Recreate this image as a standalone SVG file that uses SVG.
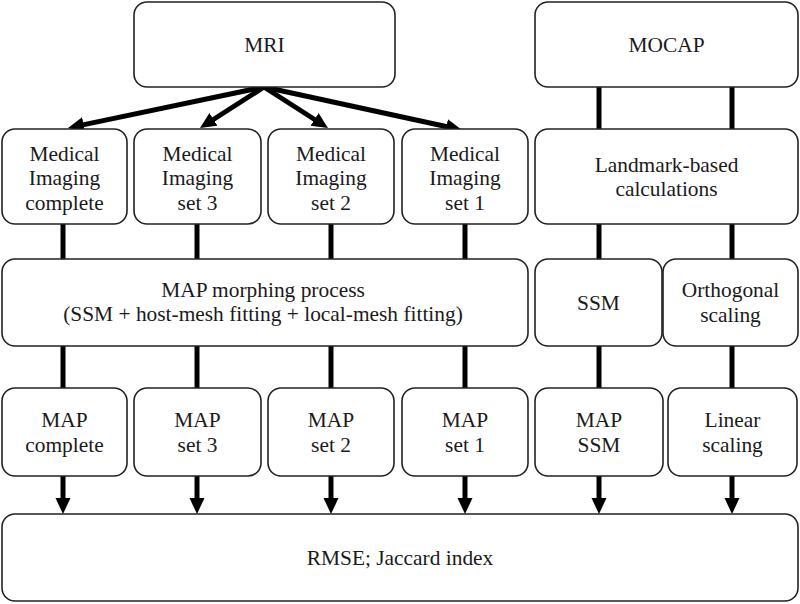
<svg xmlns="http://www.w3.org/2000/svg" width="800" height="604" viewBox="0 0 800 604">
<defs>
<style>
.box{fill:#fff;stroke:#222;stroke-width:1.6}
.t{font-family:"Liberation Serif","Times New Roman",serif;font-size:21.4px;fill:#1a1a1a;text-anchor:middle}
.c{stroke:#000;stroke-width:5;fill:none}
</style>
<marker id="ah" markerUnits="userSpaceOnUse" markerWidth="18" markerHeight="16" refX="2" refY="7.5" orient="auto">
<path d="M0,0 L16,7.5 L0,15 z" fill="#000"/>
</marker>
</defs>
<rect width="800" height="604" fill="#fff"/>
<g id="connectors">
<line class="c" x1="264" y1="87" x2="81.7" y2="125.1" marker-end="url(#ah)"/>
<line class="c" x1="264" y1="87" x2="211.8" y2="120.5" marker-end="url(#ah)"/>
<line class="c" x1="264" y1="87" x2="316.2" y2="120.5" marker-end="url(#ah)"/>
<line class="c" x1="264" y1="87" x2="448.3" y2="127" marker-end="url(#ah)"/>
<line class="c" x1="599" y1="87" x2="599" y2="129"/>
<line class="c" x1="732" y1="87" x2="732" y2="129"/>
<line class="c" x1="63" y1="224" x2="63" y2="259"/>
<line class="c" x1="197" y1="224" x2="197" y2="259"/>
<line class="c" x1="331" y1="224" x2="331" y2="259"/>
<line class="c" x1="465" y1="224" x2="465" y2="259"/>
<line class="c" x1="599" y1="224" x2="599" y2="259"/>
<line class="c" x1="732" y1="224" x2="732" y2="259"/>
<line class="c" x1="63" y1="346" x2="63" y2="388"/>
<line class="c" x1="197" y1="346" x2="197" y2="388"/>
<line class="c" x1="331" y1="346" x2="331" y2="388"/>
<line class="c" x1="465" y1="346" x2="465" y2="388"/>
<line class="c" x1="599" y1="346" x2="599" y2="388"/>
<line class="c" x1="732" y1="346" x2="732" y2="388"/>
<line class="c" x1="63" y1="476" x2="63" y2="500" marker-end="url(#ah)"/>
<line class="c" x1="197" y1="476" x2="197" y2="500" marker-end="url(#ah)"/>
<line class="c" x1="331" y1="476" x2="331" y2="500" marker-end="url(#ah)"/>
<line class="c" x1="465" y1="476" x2="465" y2="500" marker-end="url(#ah)"/>
<line class="c" x1="599" y1="476" x2="599" y2="500" marker-end="url(#ah)"/>
<line class="c" x1="732" y1="476" x2="732" y2="500" marker-end="url(#ah)"/>
</g>
<g id="mri"><rect class="box" x="134" y="2" width="261" height="85" rx="13"/><text class="t" x="264.5" y="52">MRI</text></g>
<g id="mocap"><rect class="box" x="535" y="2" width="263" height="85" rx="13"/><text class="t" x="666.5" y="52">MOCAP</text></g>
<g id="mi-complete"><rect class="box" x="2" y="129" width="125" height="95" rx="13"/><text class="t" x="64.5" y="160.5">Medical</text><text class="t" x="64.5" y="185">Imaging</text><text class="t" x="64.5" y="209.5">complete</text></g>
<g id="mi-set3"><rect class="box" x="134" y="129" width="127" height="95" rx="13"/><text class="t" x="197.5" y="160.5">Medical</text><text class="t" x="197.5" y="185">Imaging</text><text class="t" x="197.5" y="209.5">set 3</text></g>
<g id="mi-set2"><rect class="box" x="268" y="129" width="126" height="95" rx="13"/><text class="t" x="331" y="160.5">Medical</text><text class="t" x="331" y="185">Imaging</text><text class="t" x="331" y="209.5">set 2</text></g>
<g id="mi-set1"><rect class="box" x="402" y="129" width="126" height="95" rx="13"/><text class="t" x="465" y="160.5">Medical</text><text class="t" x="465" y="185">Imaging</text><text class="t" x="465" y="209.5">set 1</text></g>
<g id="landmark"><rect class="box" x="535" y="129" width="263" height="95" rx="13"/><text class="t" x="666.5" y="172">Landmark-based</text><text class="t" x="666.5" y="196">calculations</text></g>
<g id="morphing"><rect class="box" x="2" y="259" width="526" height="87" rx="13"/><text class="t" x="263" y="297">MAP morphing process</text><text class="t" x="263" y="321">(SSM + host-mesh fitting + local-mesh fitting)</text></g>
<g id="ssm"><rect class="box" x="535" y="259" width="127" height="87" rx="13"/><text class="t" x="598.5" y="310">SSM</text></g>
<g id="orthogonal"><rect class="box" x="663" y="259" width="135" height="87" rx="13"/><text class="t" x="730.5" y="297">Orthogonal</text><text class="t" x="730.5" y="322">scaling</text></g>
<g id="map-complete"><rect class="box" x="2" y="388" width="125" height="88" rx="13"/><text class="t" x="64.5" y="427">MAP</text><text class="t" x="64.5" y="452">complete</text></g>
<g id="map-set3"><rect class="box" x="134" y="388" width="127" height="88" rx="13"/><text class="t" x="197.5" y="427">MAP</text><text class="t" x="197.5" y="452">set 3</text></g>
<g id="map-set2"><rect class="box" x="268" y="388" width="126" height="88" rx="13"/><text class="t" x="331" y="427">MAP</text><text class="t" x="331" y="452">set 2</text></g>
<g id="map-set1"><rect class="box" x="402" y="388" width="126" height="88" rx="13"/><text class="t" x="465" y="427">MAP</text><text class="t" x="465" y="452">set 1</text></g>
<g id="map-ssm"><rect class="box" x="535" y="388" width="128" height="88" rx="13"/><text class="t" x="599" y="427">MAP</text><text class="t" x="599" y="452">SSM</text></g>
<g id="linear"><rect class="box" x="668" y="388" width="129" height="88" rx="13"/><text class="t" x="732.5" y="427">Linear</text><text class="t" x="732.5" y="452">scaling</text></g>
<g id="rmse"><rect class="box" x="2" y="514" width="796" height="87" rx="13"/><text class="t" x="400" y="565">RMSE; Jaccard index</text></g>
</svg>
